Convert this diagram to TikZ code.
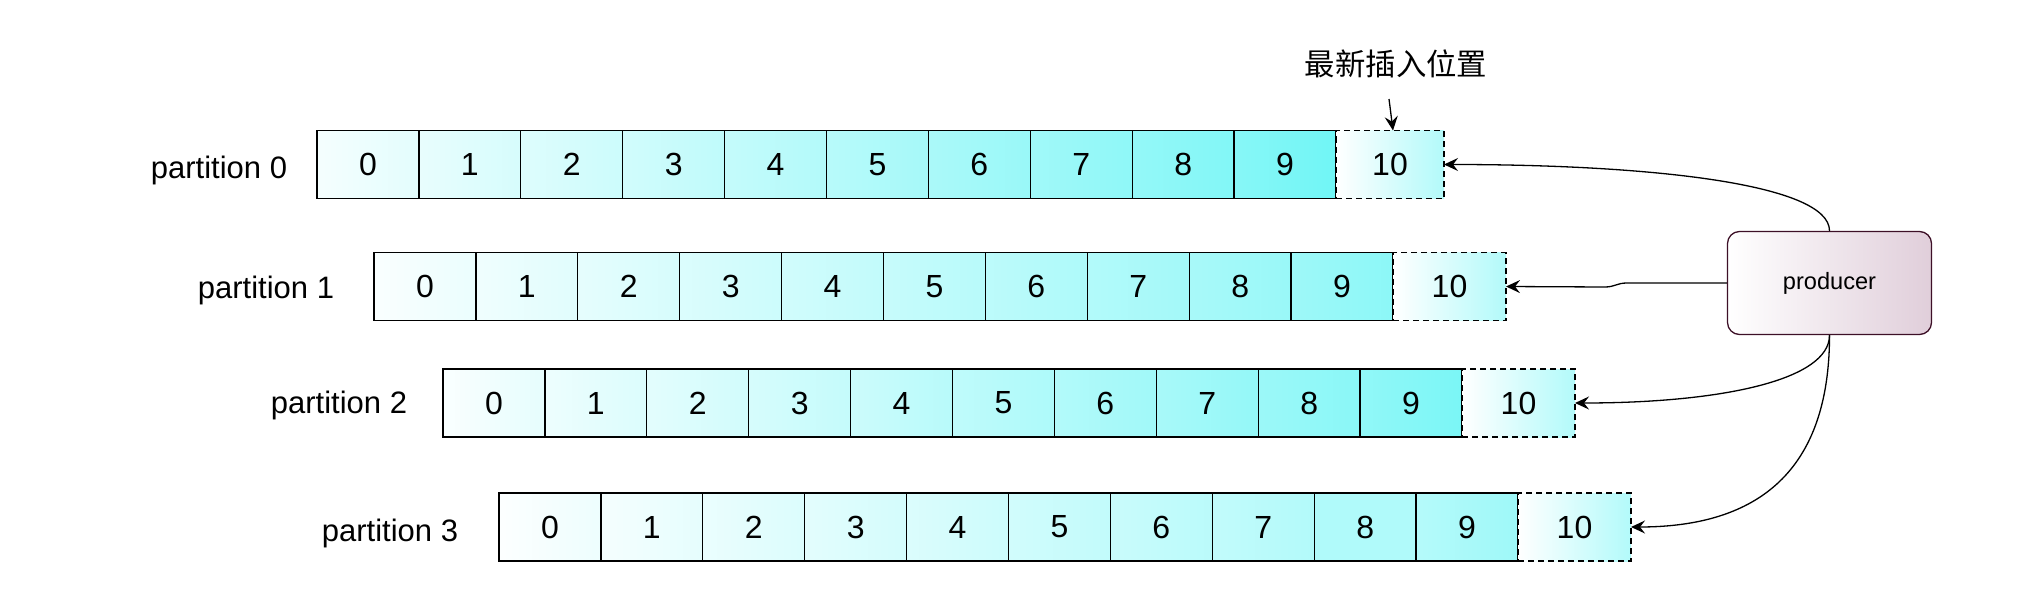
\documentclass[tikz,border=0pt]{standalone}
\usepackage{fontspec}
\setmainfont{Liberation Sans}
\newfontfamily\cjk{Noto Sans CJK SC}
\usetikzlibrary{arrows.meta,positioning}
\definecolor{cellcyan}{RGB}{0,238,238}
\definecolor{prodline}{HTML}{3D1027}
\definecolor{prodfill}{HTML}{E0CEDA}
\begin{document}
\begin{tikzpicture}[x=0.5pt,y=-0.5pt,line join=miter,>={Stealth[length=7pt,width=6.5pt,inset=2.5pt]}]
		\tikzset{cell/.style={draw,line width=0.65pt,minimum width=50.95pt,minimum height=34pt,inner sep=0pt,outer sep=0pt,anchor=west,font=\fontsize{16}{19}\selectfont},
			newcell/.style={cell,dash pattern=on 3pt off 2pt,left color=white,right color=cellcyan!30!white},
			part/.style={font=\fontsize{15.5}{18}\selectfont},
			prod/.style={draw=prodline,line width=0.65pt,rounded corners=6pt,minimum width=102pt,minimum height=51.5pt,left color=white,right color=prodfill,font=\fontsize{11.8}{14}\selectfont},
			link/.style={->,line width=0.65pt}
		}
		\useasboundingbox (0,0) rectangle (2038,610);
		\foreach \r/\xo/\yc/\ly/\lx/\nw/\cols in {
			0/317/164.5/170/219/54/{4/11,9/16,13/20,18/25,23/30,28/35,33/40,37/44,42/49,47/56},
			1/374/286.5/290/266/56.5/{2/8,6/12,10/16,14/20,18/24,22/28,26/32,30/36,34/40,38/45},
			2/443/403/405/339/56.5/{2/10,7/14,11/18,16/23,20/28,25/32,30/37,34/42,39/46,43/52},
			3/499/527/533/390/56.5/{1/7,4/10,8/14,11/17,14/20,18/24,21/27,24/30,31/31,29/38}}{
			\node[part] (p\r) at (\lx,\ly) {partition \r};
			\foreach \lc/\rc [count=\i from 0] in \cols
				\node[cell,left color=cellcyan!\lc!white,right color=cellcyan!\rc!white] (c\r-\i) at ({\xo+101.9*\i},\yc) {\i};
			\node[newcell,minimum width=\nw pt] (c\r-10) at (c\r-9.east) {10};
		}
		\node[prod] (producer) at (1829.5,283) {producer};
		\node[font=\cjk\fontsize{15.2}{18}\selectfont] (newest) at (1396,64) {最新插入位置};
		\coordinate (newtop) at (1389,99);
		\draw[link] (newtop) -- ([xshift=1.5pt]c0-10.north);
		\draw[link] (producer.north) .. controls +(0,-47) and +(206,0) .. (c0-10.east);
		\draw[link] (producer.west) -- ++(-100,0) .. controls +(-10,0) and +(10,0) .. ++(-22,4) -- (c1-10.east);
		\draw[link] (producer.south) .. controls +(0,45) and +(146,0) .. (c2-10.east);
		\draw[link] (producer.south) .. controls +(0,135) and +(128,0) .. (c3-10.east);
	\end{tikzpicture}
\end{document}
